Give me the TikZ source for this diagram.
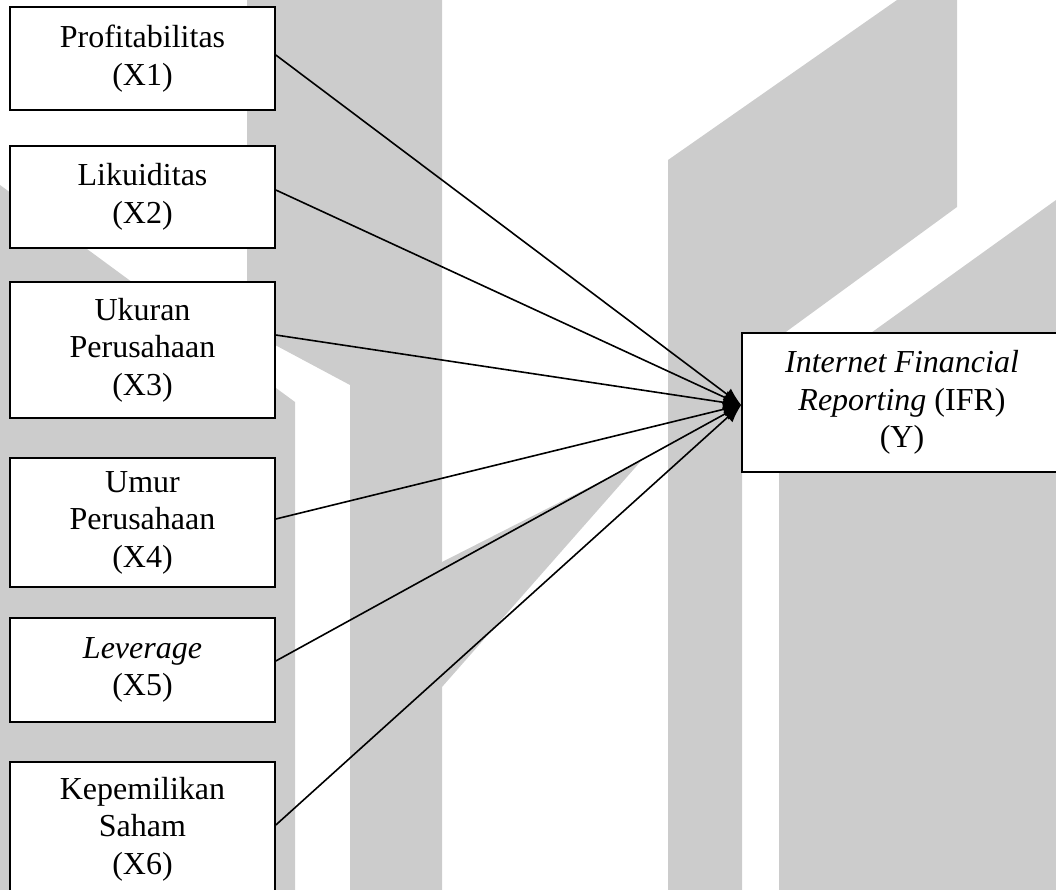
\documentclass[tikz,border=0pt]{standalone}
\usepackage{fontspec}
\setmainfont{Liberation Serif}
\usetikzlibrary{arrows.meta}
\definecolor{wm}{RGB}{204,204,204}
\begin{document}
\begin{tikzpicture}[x=1pt,y=-1pt,
  box/.style={draw, line width=1.6pt, fill=white, align=center, inner sep=0pt,
    font=\fontsize{32pt}{37.5pt}\selectfont},
  leftbox/.style={box, minimum width=265pt},
  arr/.style={line width=1.6pt, -{Latex[length=18pt,width=14pt]}},
  wmark/.style={fill=wm, draw=none}]
\useasboundingbox (0,0) rectangle (1056,890);
% background watermark
\fill[wmark] (247,0) -- (442,0) -- (442,890) -- (350,890) -- (350,385) -- (247,330) -- cycle;
\fill[wmark] (0,185) -- (295,402) -- (295,890) -- (0,890) -- cycle;
\fill[wmark] (442,562) -- (641,461) -- (442,687) -- cycle;
\fill[wmark] (668,890) -- (668,160) -- (897,0) -- (957,0) -- (957,207) -- (742,364) -- (742,890) -- cycle;
\fill[wmark] (779,399) -- (1056,200) -- (1056,890) -- (779,890) -- cycle;
% boxes
\node[leftbox, minimum height=103pt] (b1) at (142.5,58.5) {Profitabilitas\\(X1)};
\node[leftbox, minimum height=102pt] (b2) at (142.5,197) {Likuiditas\\(X2)};
\node[leftbox, minimum height=136pt] (b3) at (142.5,350) {Ukuran\\Perusahaan\\(X3)};
\node[leftbox, minimum height=129pt] (b4) at (142.5,522.5) {Umur\\Perusahaan\\(X4)};
\node[leftbox, minimum height=104pt] (b5) at (142.5,670) {\textit{Leverage}\\(X5)};
\node[leftbox, minimum height=134pt] (b6) at (142.5,829) {Kepemilikan\\Saham\\(X6)};
\node[box, minimum width=320pt, minimum height=139pt] (y) at (902,402.5)
  {\textit{Internet Financial}\\\textit{Reporting} (IFR)\\(Y)};
\coordinate (tip) at ([yshift=-2.5pt]y.west);
% connectors
\draw[arr] ([yshift=3.5pt]b1.east) -- (tip);
\draw[arr] ([yshift=7pt]b2.east) -- (tip);
\draw[arr] ([yshift=15pt]b3.east) -- (tip);
\draw[arr] ([yshift=3.5pt]b4.east) -- (tip);
\draw[arr] ([yshift=9pt]b5.east) -- (tip);
\draw[arr] ([yshift=4pt]b6.east) -- (tip);
\end{tikzpicture}
\end{document}
